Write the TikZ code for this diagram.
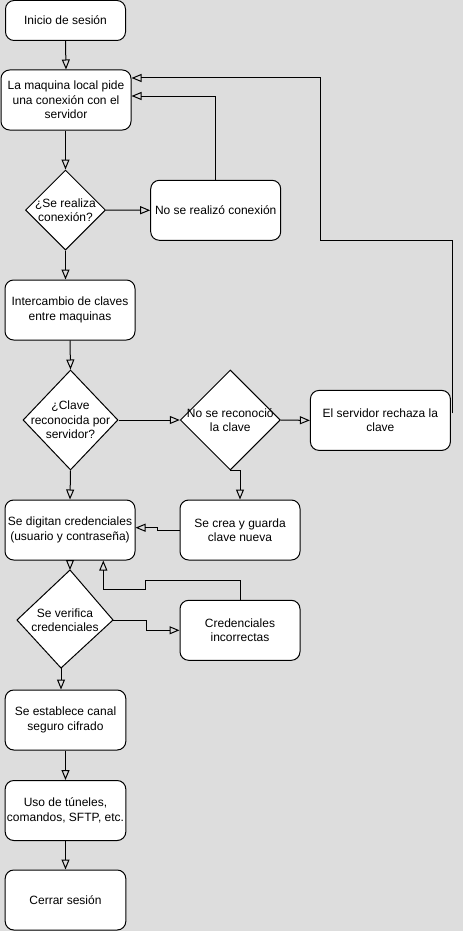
\documentclass[tikz,border=0pt]{standalone}
\usepackage{fontspec}
\setmainfont{Liberation Sans}
\usetikzlibrary{arrows.meta,shapes.geometric,calc}
\definecolor{bg}{HTML}{DDDDDD}
\begin{document}
\begin{tikzpicture}[x=0.75pt,y=-0.75pt,
  txt/.style={font=\fontsize{9pt}{10.8pt}\selectfont, align=center, text=black},
  box/.style={txt, draw=black, fill=white, line width=0.75pt, rounded corners=6.5pt, inner sep=0pt},
  dia/.style={draw=black, fill=white, line width=0.75pt, diamond, inner sep=0pt, shape aspect=1},
  arr/.style={draw=black, line width=0.75pt, -{Triangle[open,length=7.5pt,width=6pt]}}
]
\fill[bg] (0,0) rectangle (463,931);
\useasboundingbox (0,0) rectangle (463,931);

% boxes
\node[box, minimum width=90pt, minimum height=30pt] (n1) at (65.5,20.5) {Inicio de sesión};
\node[box, minimum width=97.5pt, minimum height=45pt] (n2) at (66,100) {La maquina local pide\\una conexión con el\\servidor};
\node[dia, minimum width=60pt, minimum height=60pt] (d1) at (65.5,210) {};
\node[txt] (d1t) at (65.5,210) {¿Se realiza\\conexión?};
\node[box, minimum width=97.5pt, minimum height=45pt] (n3) at (215.7,210.3) {No se realizó conexión};
\node[box, minimum width=97.5pt, minimum height=45pt] (n4) at (70,310) {Intercambio de claves\\entre maquinas};
\node[dia, minimum width=71.25pt, minimum height=75pt] (d2) at (70.5,420) {};
\node[txt] (d2t) at (70.5,420) {¿Clave\\reconocida por\\servidor?};
\node[dia, minimum width=75pt, minimum height=75pt] (d3) at (230.3,420) {};
\node[txt] (d3t) at (230.3,420) {No se reconoció\\la clave};
\node[box, minimum width=105pt, minimum height=45pt] (n5) at (380.4,420.4) {El servidor rechaza la\\clave};
\node[box, minimum width=90pt, minimum height=45pt] (n6) at (240,530) {Se crea y guarda\\clave nueva};
\node[box, minimum width=97.5pt, minimum height=45pt] (n7) at (70,530) {Se digitan credenciales\\(usuario y contraseña)};
% skewed diamond
\coordinate (d4t) at (70,570);
\coordinate (d4r) at (113,620);
\coordinate (d4b) at (61,668);
\coordinate (d4l) at (17,620);
\filldraw[fill=white, draw=black, line width=0.75pt] (d4t) -- (d4r) -- (d4b) -- (d4l) -- cycle;
\node[txt] (d4) at (65,620) {Se verifica\\credenciales};
\node[box, minimum width=90pt, minimum height=45pt] (n8) at (240,630.3) {Credenciales\\incorrectas};
\node[box, minimum width=90.5pt, minimum height=45pt] (n9) at (65.5,720) {Se establece canal\\seguro cifrado};
\node[box, minimum width=90.5pt, minimum height=45pt] (n10) at (65.5,810.5) {Uso de túneles,\\comandos, SFTP, etc.};
\node[box, minimum width=90.5pt, minimum height=45pt] (n11) at (65.5,900) {Cerrar sesión};

% connectors
\draw[arr] (n1.south) -- (n2.north);
\draw[arr] (n2.south -| d1.north) -- (d1.north);
\draw[arr] (d1.east) -- (n3.west);
\draw[arr] (n3.north) |- ($(n2.east)+(0,-4)$);
\coordinate (r1) at ($(n5.east)+(2,-7)$);
\coordinate (r2) at (320.7,240);
\draw[arr] (r1) |- (r2) |- ($(n2.east)+(0,-22)$);
\draw[arr] (d1.south) -- (d1.south |- n4.north);
\draw[arr] (n4.south) -- (d2.north);
\draw[arr] (d2.east) -- (d3.west);
\draw[arr] (d3.east) -- (n5.west);
\draw[arr] (d3.south) -| (n6.north);
\draw[arr] (d2.south) -- (n7.north);
\draw[arr] (n6.west) -- ++(-22.3,0) -- ++(0,-2.3) -- ($(n7.east)+(0,-2.3)$);
\draw[arr] (n7.south) -- (d4t);
\coordinate (j1) at (146.7,620);
\draw[arr] (d4r) -- (j1) |- (n8.west);
\coordinate (j2) at (145.7,580);
\coordinate (j3) at (145.7,589.3);
\draw[arr] (n8.north) |- (j2) -- (j3) -| ($(n7.south)+(33.3,0)$);
\draw[arr] (d4b) -- (d4b |- n9.north);
\draw[arr] (n9.south) -- (n10.north);
\draw[arr] (n10.south) -- (n11.north);
\end{tikzpicture}
\end{document}
